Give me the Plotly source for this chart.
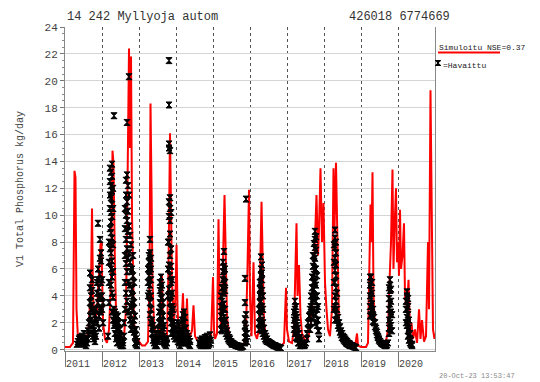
import plotly.graph_objects as go

# ---------------- data ----------------
years = list(range(2011, 2021))
year_labels = [str(y) for y in years]

# simulated load (decimal year, kg/day)
sim_t = [2011.000, 2011.135, 2011.216, 2011.257, 2011.284, 2011.311, 2011.351, 2011.459, 2011.568,
         2011.622, 2011.649, 2011.703, 2011.730, 2011.757, 2011.811, 2011.865, 2011.919, 2011.959,
         2011.986, 2012.027, 2012.081, 2012.135, 2012.189, 2012.243, 2012.284, 2012.311, 2012.351,
         2012.378, 2012.432, 2012.486, 2012.541, 2012.595, 2012.649, 2012.689, 2012.730, 2012.757,
         2012.784, 2012.811, 2012.838, 2012.865, 2012.919, 2012.973, 2013.027, 2013.081, 2013.162,
         2013.243, 2013.284, 2013.311, 2013.338, 2013.365, 2013.405, 2013.486, 2013.568, 2013.622,
         2013.649, 2013.703, 2013.757, 2013.797, 2013.838, 2013.865, 2013.892, 2013.946, 2013.986,
         2014.014, 2014.041, 2014.081, 2014.135, 2014.189, 2014.216, 2014.270, 2014.297, 2014.324,
         2014.378, 2014.432, 2014.473, 2014.514, 2014.595, 2014.703, 2014.784, 2014.811, 2014.851,
         2014.892, 2014.946, 2015.000, 2015.027, 2015.054, 2015.108, 2015.149, 2015.176, 2015.216,
         2015.257, 2015.311, 2015.338, 2015.378, 2015.432, 2015.514, 2015.622, 2015.730, 2015.838,
         2015.892, 2015.932, 2015.973, 2016.000, 2016.041, 2016.095, 2016.135, 2016.189, 2016.243,
         2016.311, 2016.338, 2016.378, 2016.432, 2016.541, 2016.703, 2016.838, 2016.919, 2016.973,
         2017.000, 2017.054, 2017.135, 2017.189, 2017.257, 2017.284, 2017.324, 2017.365, 2017.405,
         2017.486, 2017.568, 2017.649, 2017.703, 2017.757, 2017.797, 2017.838, 2017.865, 2017.905,
         2017.946, 2017.986, 2018.027, 2018.068, 2018.108, 2018.162, 2018.216, 2018.257, 2018.284,
         2018.324, 2018.365, 2018.405, 2018.486, 2018.595, 2018.703, 2018.838, 2018.892, 2018.919,
         2019.000, 2019.135, 2019.189, 2019.230, 2019.257, 2019.284, 2019.311, 2019.338, 2019.378,
         2019.459, 2019.568, 2019.676, 2019.730, 2019.770, 2019.811, 2019.851, 2019.878, 2019.905,
         2019.946, 2019.973, 2020.000, 2020.027, 2020.054, 2020.081, 2020.122, 2020.162, 2020.189,
         2020.243, 2020.284, 2020.324, 2020.365, 2020.405, 2020.459, 2020.514, 2020.568, 2020.608,
         2020.649, 2020.703, 2020.757, 2020.811, 2020.838, 2020.878, 2020.905, 2020.946, 2020.986,
         2021.000]
sim_v = [0.2, 0.2, 0.5, 13.3, 12.8, 3.0, 0.8, 0.4, 0.3,
         1.5, 2.0, 5.0, 10.5, 4.0, 2.0, 3.0, 6.0, 7.8,
         8.0, 2.0, 0.8, 0.5, 1.5, 5.0, 14.8, 13.8, 6.0,
         3.0, 1.5, 1.0, 0.6, 1.0, 3.0, 12.0, 22.4, 15.0,
         21.8, 10.0, 6.5, 2.0, 0.8, 0.7, 0.5, 0.3, 0.3,
         0.6, 5.0, 18.3, 12.0, 5.0, 2.0, 0.8, 1.5, 5.6,
         1.5, 0.8, 1.0, 6.0, 16.1, 9.0, 5.0, 2.0, 4.0,
         7.8, 3.0, 1.0, 1.0, 4.2, 1.5, 1.5, 3.8, 1.2,
         1.0, 1.4, 3.3, 1.0, 0.6, 0.4, 0.6, 0.4, 1.0,
         0.4, 0.8, 5.4, 1.5, 0.8, 1.2, 9.7, 4.0, 1.5,
         5.0, 11.5, 7.0, 2.5, 1.2, 0.6, 0.4, 0.3, 0.4,
         1.5, 6.0, 11.9, 4.0, 1.0, 6.5, 1.2, 0.8, 1.5,
         11.0, 6.0, 2.0, 1.0, 0.6, 0.4, 0.3, 0.5, 4.6,
         1.5, 0.6, 0.5, 1.5, 9.4, 4.0, 6.3, 2.5, 1.2,
         0.7, 0.8, 2.0, 4.0, 8.0, 11.5, 7.0, 9.0, 13.5,
         8.0, 10.9, 5.0, 3.0, 1.5, 1.0, 3.0, 13.5, 9.0,
         13.9, 6.0, 2.0, 1.0, 0.5, 0.3, 0.2, 1.2, 0.3,
         0.2, 0.2, 0.5, 8.0, 10.8, 8.0, 13.2, 4.0, 1.5,
         0.8, 0.5, 0.6, 1.5, 5.0, 8.0, 13.4, 6.0, 9.0,
         12.0, 6.5, 8.0, 5.5, 10.4, 6.0, 7.0, 9.4, 4.0,
         3.0, 5.2, 1.5, 2.0, 0.8, 1.5, 0.5, 3.0, 0.8,
         2.2, 0.6, 1.0, 8.0, 3.0, 19.3, 10.0, 1.5, 0.8,
         1.2]

# observed load: sampling time (decimal year) and the values observed around it
obs_t = [2011.324, 2011.351, 2011.378, 2011.405, 2011.432, 2011.459, 2011.486, 2011.514, 2011.541,
         2011.568, 2011.595, 2011.622, 2011.649, 2011.676, 2011.703, 2011.730, 2011.757, 2011.784,
         2011.811, 2011.838, 2011.865, 2011.892, 2011.919, 2011.946, 2011.973, 2012.000, 2012.027,
         2012.162, 2012.189, 2012.216, 2012.243, 2012.270, 2012.297, 2012.324, 2012.351, 2012.378,
         2012.405, 2012.432, 2012.459, 2012.486, 2012.514, 2012.541, 2012.568,
         2012.595, 2012.622, 2012.649, 2012.676, 2012.703, 2012.730, 2012.757, 2012.784, 2012.811,
         2012.838, 2012.865, 2012.892, 2012.919, 2012.946,
         2013.243, 2013.270, 2013.297, 2013.324, 2013.351, 2013.378, 2013.405, 2013.432, 2013.459,
         2013.486, 2013.514, 2013.541, 2013.568, 2013.595, 2013.622, 2013.649, 2013.676, 2013.703,
         2013.730, 2013.757, 2013.784, 2013.811, 2013.838, 2013.865, 2013.892, 2013.919, 2013.946,
         2013.973,
         2014.027, 2014.054, 2014.081, 2014.108, 2014.135, 2014.162, 2014.189, 2014.216, 2014.243,
         2014.270, 2014.297, 2014.324, 2014.351, 2014.378, 2014.622, 2014.649, 2014.676, 2014.703,
         2014.730, 2014.757, 2014.784, 2014.811, 2014.838, 2014.865, 2014.892, 2014.919, 2014.946,
         2015.216, 2015.243, 2015.270, 2015.297, 2015.324, 2015.351, 2015.378, 2015.405, 2015.432,
         2015.459, 2015.486, 2015.514, 2015.541, 2015.568, 2015.595, 2015.622, 2015.649, 2015.676,
         2015.703, 2015.730, 2015.757, 2015.784, 2015.811, 2015.865, 2015.892, 2015.919,
         2016.243, 2016.270, 2016.297, 2016.324, 2016.351, 2016.378, 2016.405, 2016.432, 2016.459,
         2016.486, 2016.514, 2016.541, 2016.568, 2016.595, 2016.622, 2016.649, 2016.676, 2016.703,
         2016.730, 2016.757, 2016.784, 2016.811, 2016.838,
         2017.189, 2017.216, 2017.243, 2017.270, 2017.297, 2017.324, 2017.351, 2017.378, 2017.405,
         2017.432, 2017.459, 2017.486, 2017.514, 2017.541, 2017.568, 2017.595, 2017.622, 2017.649,
         2017.676, 2017.703, 2017.730, 2017.757, 2017.784, 2017.811, 2017.838, 2017.865,
         2018.270, 2018.297, 2018.324, 2018.351, 2018.378, 2018.405, 2018.432, 2018.459, 2018.486,
         2018.514, 2018.541, 2018.568, 2018.595, 2018.622, 2018.649, 2018.676, 2018.703, 2018.730,
         2018.757, 2018.784, 2018.811, 2018.838, 2018.865,
         2019.243, 2019.270, 2019.297, 2019.324, 2019.351, 2019.378, 2019.405, 2019.432, 2019.459,
         2019.486, 2019.514, 2019.541, 2019.568, 2019.595, 2019.622, 2019.649, 2019.676, 2019.703,
         2019.730, 2019.757, 2019.784, 2019.811, 2019.838,
         2020.216, 2020.243, 2020.270, 2020.297, 2020.324, 2020.351, 2020.378]
obs_v = [[0.4], [0.6], [0.8], [0.9, 0.5], [0.7], [0.5, 1.0], [0.4], [0.6, 1.2], [0.5],
         [0.3, 0.8], [0.5], [0.8, 1.4], [1.2, 2.0], [2.5, 3.5, 4.6, 5.7], [4.0, 3.0, 2.2, 1.5],
         [5.2, 4.4, 3.3], [2.8, 1.8, 1.0], [2.0, 1.4, 0.8],
         [1.2, 0.6, 2.6], [3.0, 2.2, 1.0], [2.0, 4.2, 5.0], [9.4, 6.0, 5.2, 3.5], [4.6, 3.8, 2.5, 1.6],
         [8.2, 6.8, 5.6, 4.0, 3.0], [6.6, 7.2, 5.0, 2.8], [5.2, 4.0, 3.0], [3.5, 2.0],
         [1.0], [3.5, 5.0, 6.5, 8.0], [9.0, 10.5, 11.5, 12.5, 13.5, 7.5],
         [13.2, 12.2, 11.3, 10.2, 9.5, 8.7, 7.2, 6.0, 4.8],
         [13.8, 12.9, 11.8, 10.8, 9.9, 8.3, 6.6, 5.4, 4.2, 2.8], [12.0, 10.5, 7.8, 5.8, 3.9, 2.2],
         [17.4, 3.0, 2.5, 1.8], [2.8, 2.0, 1.2], [2.6, 1.5, 0.8, 2.2],
         [2.4, 1.9, 1.0, 0.5], [2.5, 1.6, 0.9], [2.0, 1.2, 0.6], [1.5, 0.8, 0.4], [1.0, 0.5, 0.3],
         [0.6, 0.3], [0.5, 0.3],
         [1.0, 2.0], [3.0, 5.0, 7.0, 9.0, 10.5], [11.5, 12.6, 10.0, 8.2, 6.4, 4.2],
         [16.9, 13.0, 11.0, 9.6, 7.5, 5.8, 3.6], [12.2, 10.3, 8.8, 6.8, 5.0, 2.8],
         [20.3, 11.5, 9.2, 7.2], [8.5, 6.5, 4.8, 3.2, 2.2], [7.8, 5.8, 4.2, 2.6, 1.5],
         [6.0, 4.5, 3.4, 2.0],
         [7.0, 5.5, 4.0, 3.0, 1.8], [5.0, 3.5, 2.2, 1.3], [2.5, 1.0, 0.5], [1.5, 0.8, 0.4], [0.6, 0.3],
         [4.0, 5.0, 6.0], [6.5, 7.0, 5.5, 4.2], [8.2, 7.2, 6.6, 5.8, 4.8, 3.5, 2.6],
         [6.8, 6.0, 5.2, 4.0, 3.0, 2.0], [2.2, 1.6, 1.2], [1.8, 1.2, 0.7], [1.5, 0.9, 0.5],
         [1.2, 0.6, 0.3], [0.8, 0.4],
         [0.6, 0.3], [0.8, 1.5], [1.0, 2.0, 2.8], [3.5, 4.4, 5.0, 2.5, 1.2],
         [5.4, 4.6, 3.8, 3.0, 2.0, 1.0], [4.8, 3.9, 3.0, 2.2, 1.4, 0.6], [3.5, 2.5, 1.6, 0.8],
         [1.8, 1.0, 0.5], [0.8, 0.4],
         [0.6, 0.3], [0.5, 0.8], [4.0, 6.0, 8.0], [21.5, 18.2, 15.3, 15.0, 11.0, 9.9, 8.0, 6.3, 4.5],
         [14.8, 11.3, 10.5, 9.6, 8.6, 7.0, 5.5, 3.5, 2.5], [10.2, 7.5, 6.2, 5.0, 4.0, 3.0, 2.0, 1.2],
         [5.2, 4.2, 3.2, 2.4, 1.6], [3.0, 2.0, 1.2], [1.8, 1.0],
         [1.4, 0.8],
         [1.5, 0.8], [2.0, 1.2, 0.6], [1.8, 1.0, 0.5], [1.4, 0.8, 0.3], [1.0, 0.5], [2.2, 1.4, 0.7],
         [2.6, 1.8, 1.0], [2.8, 2.0, 1.2, 0.5], [2.4, 1.6, 0.8],
         [1.6, 1.0, 0.5], [1.2, 0.7], [1.0, 0.5], [0.8, 0.4], [0.6, 0.3], [0.5], [0.4, 0.7], [0.3],
         [0.5, 0.8],
         [0.3], [0.6], [0.9, 0.4], [0.3], [0.7, 1.0], [0.5, 0.3], [0.4, 0.8], [1.1, 0.5], [0.7],
         [1.5, 2.5, 3.2, 4.0], [4.6, 3.6, 2.8, 2.0, 1.4], [6.5, 5.8, 5.2, 4.6, 3.0, 2.0],
         [7.3, 6.2, 5.5, 4.9, 4.2, 3.4, 2.4], [6.0, 5.0, 4.4, 3.0, 1.8], [2.2, 1.6, 1.2],
         [1.4, 1.0], [1.1, 0.8], [0.9, 0.7],
         [0.8, 0.6], [0.6, 0.5], [0.5, 0.4], [0.45], [0.4], [0.35], [0.3], [0.3], [0.25],
         [0.25], [0.2], [0.2], [0.2], [0.25], [0.5, 0.9, 1.3, 1.8, 2.3, 3.5, 5.3],
         [11.2, 2.6, 1.6, 0.8], [1.2, 0.6],
         [1.5, 2.0, 3.0], [3.5, 4.0, 4.5, 5.0, 2.5], [6.9, 6.0, 5.5, 4.8, 4.2, 3.6, 2.8, 1.8],
         [6.3, 5.7, 5.2, 4.4, 3.2, 2.2, 1.4], [4.0, 3.0, 2.0, 1.2], [1.6, 1.0], [1.2, 0.8],
         [1.0, 0.7], [0.8, 0.6],
         [0.6], [0.55], [0.5], [0.45], [0.4], [0.35], [0.3], [0.3], [0.25],
         [0.2], [0.2], [0.15], [0.15], [0.1],
         [1.5, 2.2, 2.8], [3.6, 3.0, 2.4, 1.8, 1.2], [3.2, 2.6, 2.0, 1.4, 0.9], [2.4, 1.8, 1.2, 0.8],
         [1.6, 1.2, 0.8, 0.5], [1.2, 0.8, 0.5], [0.9, 0.6, 0.3], [0.7, 0.4], [0.5, 0.3],
         [0.4], [0.3], [0.35], [0.5], [0.8, 1.2], [1.5, 2.0], [2.5], [1.5, 2.5, 3.0], [2.0, 3.2, 4.0],
         [2.8, 3.6, 4.6, 5.4], [3.8, 5.0, 6.2, 7.0, 2.4], [7.9, 7.0, 6.5, 5.6, 4.5, 3.0],
         [8.8, 8.2, 7.6, 6.8, 6.0, 5.0, 4.0, 2.0], [8.4, 7.4, 6.0, 4.8, 3.6, 2.6],
         [5.5, 4.0, 3.0, 1.8], [3.2, 2.2, 1.4], [1.4, 0.8],
         [3.0, 5.0, 6.5, 7.8], [8.9, 8.3, 7.6, 6.8, 5.9, 5.0, 4.0, 3.2, 2.2],
         [8.0, 7.2, 6.3, 5.5, 4.6, 3.6, 2.6], [4.2, 3.0, 2.2], [2.4, 1.8], [2.0, 1.6], [1.7, 1.3],
         [1.4, 1.1], [1.2, 0.9],
         [1.0, 0.8], [0.9, 0.7], [0.8, 0.6], [0.7, 0.5], [0.6, 0.45], [0.5, 0.4], [0.45, 0.35],
         [0.4, 0.3], [0.3],
         [0.3], [0.25], [0.2], [0.2], [0.15],
         [2.5, 3.2, 4.0, 4.8, 5.4], [5.4, 5.0, 4.4, 3.8, 3.2, 2.6], [5.0, 4.2, 3.4, 2.8],
         [3.0, 2.5, 2.1], [2.4, 2.0], [2.0, 1.7], [1.6, 1.4], [1.3, 1.1], [1.0, 0.9],
         [0.8, 0.7], [0.6], [0.5], [0.45], [0.4], [0.35], [0.3], [0.3], [0.35],
         [0.5], [1.2, 1.6, 2.2, 3.0, 3.8, 4.6], [5.2, 4.8, 4.4, 3.4, 2.6, 2.0], [4.5, 3.6, 2.8, 1.8],
         [2.6, 1.4],
         [2.0, 3.0, 3.6], [4.3, 4.0, 3.6, 3.0, 2.4, 1.8], [3.8, 3.2, 2.6, 2.0, 1.4, 1.0],
         [2.2, 1.6, 1.1, 0.7], [1.2, 0.8, 0.5], [0.7, 0.4], [0.4, 0.3]]

# flatten observations for plotting
obs_x, obs_y = [], []
for t, vals in zip(obs_t, obs_v):
    for v in vals:
        obs_x.append(t)
        obs_y.append(v)

# ---------------- figure ----------------
FONT = "Liberation Mono"
W, H = 540, 382
ML, MR, MT, MB = 65, 105, 27, 31
PW, PH = W - ML - MR, H - MT - MB


def px(xp):  # pixel -> paper x
    return (xp - ML) / PW


def py(yp):  # pixel -> paper y
    return (H - MB - yp) / PH


fig = go.Figure()
fig.add_trace(go.Scatter(x=sim_t, y=sim_v, mode="lines",
                         line=dict(color="#ff0000", width=2), showlegend=False))
fig.add_trace(go.Scatter(x=obs_x, y=obs_y, mode="markers",
                         marker=dict(symbol="hourglass", size=6, color="black",
                                     line=dict(color="black", width=1)),
                         showlegend=False))

fig.update_layout(
    width=W, height=H,
    margin=dict(l=ML, r=MR, t=MT, b=MB, pad=0),
    paper_bgcolor="white", plot_bgcolor="white",
    font=dict(family=FONT, color="#444", size=10),
    showlegend=False,
)

fig.update_xaxes(
    range=[2011, 2021], tickvals=years, ticktext=year_labels,
    showgrid=True, gridcolor="#555", griddash="dot", gridwidth=1,
    showline=True, linecolor="#888", linewidth=1, mirror=False,
    ticks="outside", ticklen=15, tickcolor="#777", tickwidth=1,
    ticklabelposition="outside right", ticklabelstandoff=3,
    tickfont=dict(family=FONT, size=10, color="#444"),
    zeroline=False,
)
fig.update_yaxes(
    range=[-0.1, 24], dtick=2, tick0=0,
    showgrid=True, gridcolor="#d4d4d4", gridwidth=1,
    showline=True, linecolor="#888", linewidth=1, mirror=True,
    ticks="outside", ticklen=4, tickcolor="#777",
    minor=dict(ticks="outside", ticklen=2, dtick=0.5, tickcolor="#888", showgrid=False),
    tickfont=dict(family=FONT, size=11, color="#444"),
    zeroline=False,
)

ann = [
    dict(text="14 242 Myllyoja autom", x=0, y=1, xref="paper", yref="paper",
         xanchor="left", yanchor="bottom", yshift=1, showarrow=False,
         font=dict(family=FONT, size=12, color="#333")),
    dict(text="426018 6774669", x=px(452), y=1, xref="paper", yref="paper",
         xanchor="right", yanchor="bottom", yshift=1, showarrow=False,
         font=dict(family=FONT, size=12, color="#333")),
    dict(text="V1 Total Phosphorus kg/day", x=px(20), y=py(189), xref="paper", yref="paper",
         textangle=-90, showarrow=False, xanchor="center", yanchor="middle",
         font=dict(family=FONT, size=10, color="#444")),
    dict(text="Simuloitu NSE=0.37", x=px(437), y=py(47.5), xref="paper", yref="paper",
         xanchor="left", yanchor="middle", showarrow=False,
         font=dict(family=FONT, size=8, color="#222")),
    dict(text="=Havaittu", x=px(440.5), y=py(65.5), xref="paper", yref="paper",
         xanchor="left", yanchor="middle", showarrow=False,
         font=dict(family=FONT, size=8, color="#222")),
    dict(text="20-Oct-23 13:53:47", x=px(437), y=py(376), xref="paper", yref="paper",
         xanchor="left", yanchor="middle", showarrow=False,
         font=dict(family=FONT, size=7, color="#888")),
]
fig.update_layout(annotations=ann)

x0, x1 = px(435.2), px(440.8)
yt, yb = py(60.5), py(65.5)
fig.update_layout(shapes=[
    dict(type="line", xref="paper", yref="paper", x0=px(438), x1=px(500),
         y0=py(52.5), y1=py(52.5), line=dict(color="#ff0000", width=2)),
    dict(type="path", xref="paper", yref="paper",
         path=f"M{x0},{yt} L{x1},{yt} L{x0},{yb} L{x1},{yb} Z",
         fillcolor="black", line=dict(color="black", width=1)),
])

fig.write_html("out.html")
